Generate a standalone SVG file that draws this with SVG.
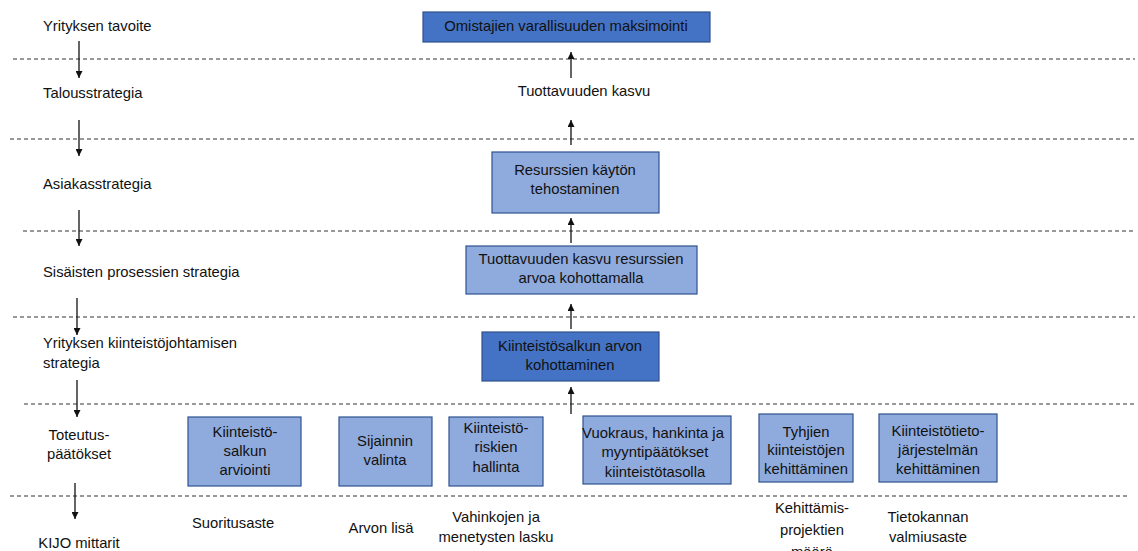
<svg xmlns="http://www.w3.org/2000/svg" width="1138" height="551" viewBox="0 0 1138 551">
  <style>
    text { font-family: "Liberation Sans", Arial, sans-serif; font-size: 14.8px; fill: #111; }
    .c { text-anchor: middle; }
    .sep { stroke: #333; stroke-width: 1; stroke-dasharray: 4 3; fill: none; }
    .arr { stroke: #111; stroke-width: 1.3; fill: none; marker-end: url(#head); }
    .dark { fill: #4472C4; stroke: #2F528F; stroke-width: 1.2; }
    .light { fill: #8FAADC; stroke: #2F528F; stroke-width: 1.2; }
  </style>
  <defs>
    <marker id="head" viewBox="0 0 10 10" refX="10" refY="5" markerWidth="7" markerHeight="7" markerUnits="userSpaceOnUse" orient="auto">
      <path d="M0,0 L10,5 L0,10 Z" fill="#111"/>
    </marker>
  </defs>
  <rect width="1138" height="551" fill="#fff"/>

  <!-- level separators -->
  <g id="separators">
    <line class="sep" x1="13" y1="59" x2="1135" y2="59"/>
    <line class="sep" x1="10" y1="139" x2="1135" y2="139"/>
    <line class="sep" x1="23" y1="231" x2="1135" y2="231"/>
    <line class="sep" x1="13" y1="317" x2="1135" y2="317"/>
    <line class="sep" x1="24" y1="404" x2="1135" y2="404"/>
    <line class="sep" x1="10" y1="496" x2="1128" y2="496"/>
  </g>

  <!-- level labels -->
  <g id="levels">
    <text x="43" y="31">Yrityksen tavoite</text>
    <text x="43" y="98">Talousstrategia</text>
    <text x="43" y="189">Asiakasstrategia</text>
    <text x="43" y="277">Sisäisten prosessien strategia</text>
    <text x="43" y="348">Yrityksen kiinteistöjohtamisen</text>
    <text x="43" y="368">strategia</text>
    <text class="c" x="79" y="440">Toteutus-</text>
    <text class="c" x="79" y="459">päätökset</text>
    <text class="c" x="79" y="548">KIJO mittarit</text>
  </g>

  <g id="connectors">
    <!-- downward flow on the left -->
    <line class="arr" x1="79" y1="41" x2="79" y2="78"/>
    <line class="arr" x1="79" y1="120" x2="79" y2="156"/>
    <line class="arr" x1="79" y1="210" x2="79" y2="246"/>
    <line class="arr" x1="77" y1="298" x2="77" y2="335"/>
    <line class="arr" x1="77" y1="380" x2="77" y2="417"/>
    <line class="arr" x1="75" y1="483" x2="75" y2="519"/>
    <!-- upward flow in the centre column -->
    <line class="arr" x1="571" y1="78" x2="571" y2="52"/>
    <line class="arr" x1="571" y1="145" x2="571" y2="120"/>
    <line class="arr" x1="571" y1="243" x2="571" y2="218"/>
    <line class="arr" x1="571" y1="329" x2="571" y2="304"/>
    <line class="arr" x1="571" y1="414" x2="571" y2="387"/>
  </g>

  <g id="goal">
    <rect class="dark" x="423" y="12" width="287" height="30"/>
    <text class="c" x="566" y="31">Omistajien varallisuuden maksimointi</text>
  </g>

  <g id="finance">
    <text class="c" x="584" y="96">Tuottavuuden kasvu</text>
  </g>

  <g id="customer">
    <rect class="light" x="492" y="152" width="167" height="61"/>
    <text class="c" x="575" y="175">Resurssien käytön</text>
    <text class="c" x="575" y="194">tehostaminen</text>
  </g>

  <g id="process">
    <rect class="light" x="466" y="246" width="231" height="48"/>
    <text class="c" x="581" y="264">Tuottavuuden kasvu resurssien</text>
    <text class="c" x="581" y="283">arvoa kohottamalla</text>
  </g>

  <g id="rem-strategy">
    <rect class="dark" x="482" y="332" width="177" height="49"/>
    <text class="c" x="570" y="351">Kiinteistösalkun arvon</text>
    <text class="c" x="570" y="370">kohottaminen</text>
  </g>

  <g id="d1">
    <rect class="light" x="188" y="417" width="113" height="69"/>
    <text class="c" x="245" y="437">Kiinteistö-</text>
    <text class="c" x="245" y="456">salkun</text>
    <text class="c" x="245" y="475">arviointi</text>
  </g>

  <g id="d2">
    <rect class="light" x="339" y="417" width="93" height="69"/>
    <text class="c" x="385" y="446">Sijainnin</text>
    <text class="c" x="385" y="465">valinta</text>
  </g>

  <g id="d3">
    <rect class="light" x="449" y="417" width="94" height="69"/>
    <text class="c" x="496" y="433">Kiinteistö-</text>
    <text class="c" x="496" y="452">riskien</text>
    <text class="c" x="496" y="472">hallinta</text>
  </g>

  <g id="d4">
    <rect class="light" x="583" y="416" width="148" height="68"/>
    <text class="c" x="653" y="438">Vuokraus, hankinta ja</text>
    <text class="c" x="655" y="457">myyntipäätökset</text>
    <text class="c" x="655" y="477">kiinteistötasolla</text>
  </g>

  <g id="d5">
    <rect class="light" x="759" y="414" width="94" height="68"/>
    <text class="c" x="806" y="437">Tyhjien</text>
    <text class="c" x="806" y="455">kiinteistöjen</text>
    <text class="c" x="806" y="474">kehittäminen</text>
  </g>

  <g id="d6">
    <rect class="light" x="879" y="414" width="118" height="68"/>
    <text class="c" x="938" y="436">Kiinteistötieto-</text>
    <text class="c" x="938" y="455">järjestelmän</text>
    <text class="c" x="938" y="474">kehittäminen</text>
  </g>

  <!-- measures -->
  <g id="measures">
    <text class="c" x="233" y="528">Suoritusaste</text>
    <text class="c" x="381" y="533">Arvon lisä</text>
    <text class="c" x="496" y="522">Vahinkojen ja</text>
    <text class="c" x="496" y="542">menetysten lasku</text>
    <text class="c" x="812" y="513">Kehittämis-</text>
    <text class="c" x="812" y="535">projektien</text>
    <text class="c" x="812" y="557">määrä</text>
    <text class="c" x="928" y="522">Tietokannan</text>
    <text class="c" x="928" y="542">valmiusaste</text>
  </g>
</svg>
